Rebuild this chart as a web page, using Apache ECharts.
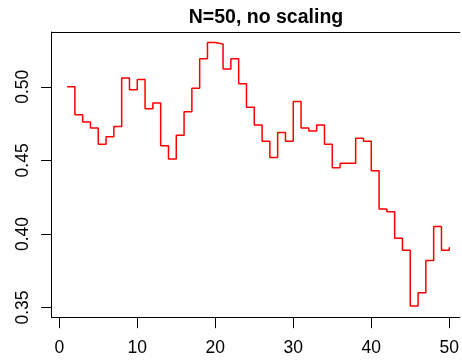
<!DOCTYPE html>
<html>
<head>
<meta charset="utf-8">
<script src="https://cdn.jsdelivr.net/npm/echarts@6/dist/echarts.min.js"></script>
<style>html,body{margin:0;padding:0;background:#fff}#c{width:462px;height:361px}</style>
</head>
<body>
<div id="c"></div>
<script>
const titleText = "N=50, no scaling";
const xValues = [1,2,3,4,5,6,7,8,9,10,11,12,13,14,15,16,17,18,19,20,21,22,23,24,25,26,27,28,29,30,31,32,33,34,35,36,37,38,39,40,41,42,43,44,45,46,47,48,49,50];
const yValues = [0.500,0.481,0.476,0.472,0.461,0.466,0.473,0.506,0.498,0.505,
                 0.485,0.489,0.460,0.451,0.467,0.483,0.499,0.519,0.530,0.529,
                 0.512,0.519,0.502,0.486,0.474,0.463,0.452,0.469,0.463,0.490,
                 0.472,0.470,0.474,0.461,0.445,0.448,0.448,0.465,0.463,0.443,
                 0.417,0.415,0.397,0.389,0.351,0.360,0.382,0.405,0.389,0.391];
const xTicks = [0,10,20,30,40,50];
const yTicks = [0.35,0.40,0.45,0.50];

const chart = echarts.init(document.getElementById('c'), null, {renderer:'canvas'});
const font = 'Liberation Sans, Arial, sans-serif';
chart.setOption({
  animation:false,
  backgroundColor:'#fff',
  title:{text:titleText,left:261,top:3,textAlign:'center',
    textStyle:{fontFamily:font,fontWeight:'bold',fontSize:19.5,color:'#000'}},
  grid:{left:51.7,top:32,right:0,height:285.7,show:false},
  xAxis:[{type:'value',min:-0.97,max:51.36,position:'bottom',
    axisLine:{show:true,onZero:false,lineStyle:{color:'#000',width:1}},
    splitLine:{show:false},
    axisTick:{show:true,customValues:xTicks,length:10.5,lineStyle:{color:'#000',width:1}},
    axisLabel:{customValues:xTicks,margin:21,fontFamily:font,fontSize:17.5,color:'#000'}
  },{type:'value',min:-0.97,max:51.36,position:'top',
    axisLine:{show:true,onZero:false,lineStyle:{color:'#000',width:1}},
    splitLine:{show:false},axisTick:{show:false},axisLabel:{show:false}}],
  yAxis:{type:'value',min:0.3431,max:0.5372,
    axisLine:{show:true,onZero:false,lineStyle:{color:'#000',width:1}},
    splitLine:{show:false},
    axisTick:{show:true,customValues:yTicks,length:10.7,lineStyle:{color:'#000',width:1}},
    axisLabel:{customValues:yTicks,rotate:90,margin:20,fontFamily:font,fontSize:17.5,color:'#000',
      formatter:function(v){return v.toFixed(2);}}
  },
  series:[{type:'line',step:'end',symbol:'none',xAxisIndex:0,
    data:xValues.map((x,i)=>[x,yValues[i]]),
    lineStyle:{color:'#ff0000',width:1.5}}]
});
</script>
</body>
</html>
